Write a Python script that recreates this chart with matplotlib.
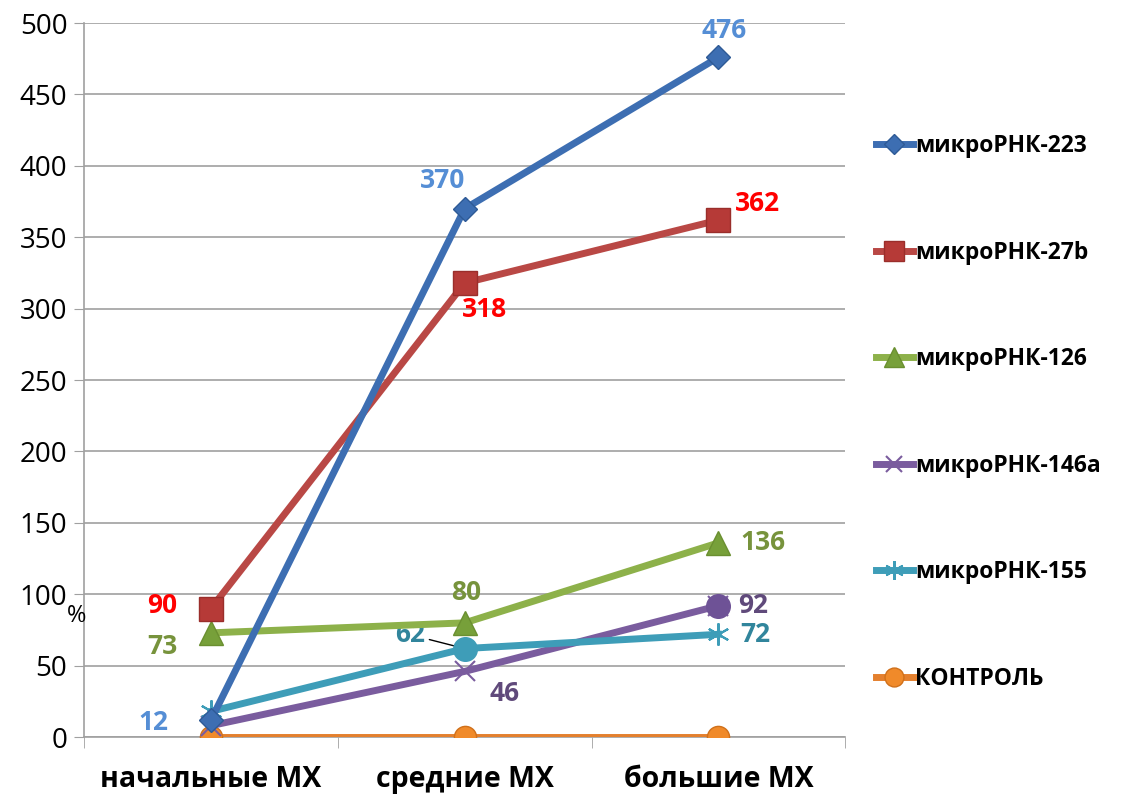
import matplotlib.pyplot as plt
import numpy as np

plt.rcParams['font.family'] = ['Open Sans', 'DejaVu Sans']

categories = ["начальные МХ", "средние МХ", "большие МХ"]
series_names = ["микроРНК-223", "микроРНК-27b", "микроРНК-126",
                "микроРНК-146a", "микроРНК-155", "КОНТРОЛЬ"]
mir223 = [12, 370, 476]
mir27b = [90, 318, 362]
mir126 = [73, 80, 136]
mir146a = [8, 46, 92]
mir155 = [18, 62, 72]
control = [0, 0, 0]

fig = plt.figure(figsize=(11.21, 7.96), dpi=100)
ax = fig.add_axes([0.075, 0.074, 0.679, 0.897])

x = np.arange(len(categories))
lw = 5

# линии
l_ctrl, = ax.plot(x, control, color="#E4802E", lw=lw, marker="o", ms=16,
                  mfc="#F08A2A", mec="#D0701A", label=series_names[5], zorder=3)
l_146, = ax.plot(x, mir146a, color="#7A5C9E", lw=lw, marker="x", ms=14, mew=1.5,
                 label=series_names[3], zorder=4)
ax.plot(x[2], mir146a[2], "o", ms=17, color="#6E5296", zorder=4)
l_155, = ax.plot(x, mir155, color="#3E9DB8", lw=lw, marker=(6, 2, 0), ms=16, mew=1.5,
                 label=series_names[4], zorder=5)
ax.plot(x[1], mir155[1], "o", ms=17, color="#3E9DB8", zorder=5)
l_126, = ax.plot(x, mir126, color="#8DB14A", lw=lw, marker="^", ms=17,
                 mfc="#77A03A", mec="#6A8F30", label=series_names[2], zorder=6)
l_27b, = ax.plot(x, mir27b, color="#B94845", lw=lw, marker="s", ms=17,
                 mfc="#B63A37", mec="#9A2E2B", label=series_names[1], zorder=7)
l_223, = ax.plot(x, mir223, color="#3D6EB2", lw=lw, marker="D", ms=12,
                 mfc="#3D6EB2", mec="#2E5A96", label=series_names[0], zorder=8)

# подписи значений
lab = dict(fontsize=19, fontweight="bold")
ax.annotate(str(mir223[0]), (x[0], mir223[0]), xytext=(-52, -2), textcoords="offset points", color="#558ED5", va="center", **lab)
ax.annotate(str(mir223[1]), (x[1], mir223[1]), xytext=(-32, 20), textcoords="offset points", color="#558ED5", va="center", **lab)
ax.annotate(str(mir223[2]), (x[2], mir223[2]), xytext=(-12, 19), textcoords="offset points", color="#558ED5", va="center", **lab)
ax.annotate(str(mir27b[0]), (x[0], mir27b[0]), xytext=(-46, 2), textcoords="offset points", color="#FF0000", va="center", **lab)
ax.annotate(str(mir27b[1]), (x[1], mir27b[1]), xytext=(-2, -19), textcoords="offset points", color="#FF0000", va="center", **lab)
ax.annotate(str(mir27b[2]), (x[2], mir27b[2]), xytext=(12, 12), textcoords="offset points", color="#FF0000", va="center", **lab)
ax.annotate(str(mir126[0]), (x[0], mir126[0]), xytext=(-46, -10), textcoords="offset points", color="#77933C", va="center", **lab)
ax.annotate(str(mir126[1]), (x[1], mir126[1]), xytext=(-10, 22), textcoords="offset points", color="#77933C", va="center", **lab)
ax.annotate(str(mir126[2]), (x[2], mir126[2]), xytext=(16, 0), textcoords="offset points", color="#77933C", va="center", **lab)
ax.annotate(str(mir146a[1]), (x[1], mir146a[1]), xytext=(18, -16), textcoords="offset points", color="#604A7B", va="center", **lab)
ax.annotate(str(mir146a[2]), (x[2], mir146a[2]), xytext=(14, 0), textcoords="offset points", color="#604A7B", va="center", **lab)
ax.annotate(str(mir155[1]), (x[1], mir155[1]), xytext=(-50, 10), textcoords="offset points", color="#31859C", va="center",
            arrowprops=dict(arrowstyle="-", color="black", lw=1, shrinkA=1, shrinkB=2), **lab)
ax.annotate(str(mir155[2]), (x[2], mir155[2]), xytext=(16, 0), textcoords="offset points", color="#31859C", va="center", **lab)

# оси
ax.set_xlim(-0.5, 2.5)
ax.set_ylim(0, 500)
ax.set_yticks(np.arange(0, 501, 50))
ax.set_xticks(x)
ax.set_xticklabels(categories, fontsize=20.5, fontweight="bold")
ax.set_xticks([-0.5, 0.5, 1.5, 2.5], minor=True)
ax.tick_params(axis="x", which="major", length=0, pad=20)
ax.tick_params(axis="x", which="minor", length=8, color="#A0A0A0")
ax.tick_params(axis="y", length=7, color="#A0A0A0", labelsize=20, pad=5)
ax.grid(axis="y", color="#A0A0A0", lw=1.2)
ax.set_axisbelow(True)
for s in ["top", "right"]:
    ax.spines[s].set_visible(False)
ax.spines["left"].set_color("#A0A0A0")
ax.spines["bottom"].set_color("#A0A0A0")
ax.spines["left"].set_linewidth(1.2)
ax.spines["bottom"].set_linewidth(1.2)
ax.text(-0.01, 0.17, "%", transform=ax.transAxes, fontsize=17, ha="center", va="center")

# легенда
handles = [l_223, l_27b, l_126, l_146, l_155, l_ctrl]
leg = fig.legend(handles, series_names,
                 loc="center left", bbox_to_anchor=(0.763, 0.482), frameon=False,
                 prop=dict(size=16.5, weight="bold"), labelspacing=3.6,
                 handlelength=1.6, handletextpad=0.1, markerscale=0.85)

fig.savefig("out.png", dpi=100)
